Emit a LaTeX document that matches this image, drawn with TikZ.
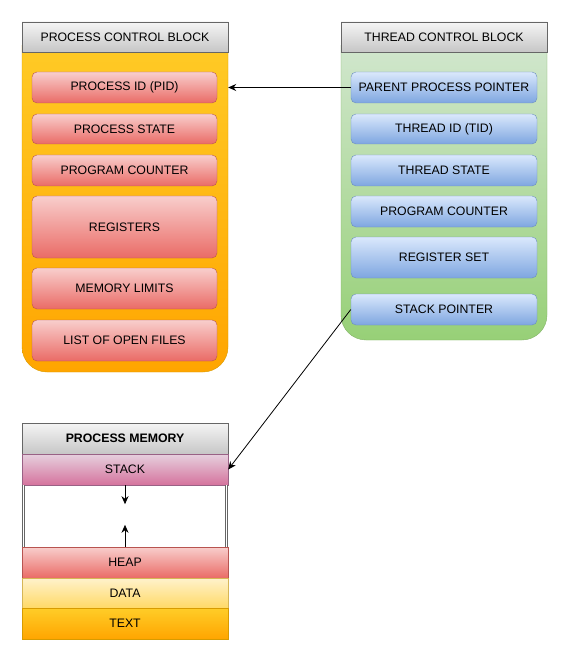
\documentclass[tikz,border=0pt]{standalone}
\usepackage{fontspec}
\setmainfont{Liberation Sans}
\usetikzlibrary{arrows.meta}
\definecolor{headtop}{HTML}{F5F5F5}
\definecolor{headbot}{HTML}{C6C6C6}
\definecolor{headline}{HTML}{666666}
\definecolor{orgtop}{HTML}{FFCD28}
\definecolor{orgbot}{HTML}{FFA500}
\definecolor{orgline}{HTML}{D79B00}
\definecolor{redtop}{HTML}{F8CECC}
\definecolor{redbot}{HTML}{EA6B66}
\definecolor{redline}{HTML}{B85450}
\definecolor{grntop}{HTML}{D5E8D4}
\definecolor{grnbot}{HTML}{97D077}
\definecolor{grnline}{HTML}{82B366}
\definecolor{blutop}{HTML}{DAE8FC}
\definecolor{blubot}{HTML}{7EA6E0}
\definecolor{bluline}{HTML}{6C8EBF}
\definecolor{pnktop}{HTML}{E6D0DE}
\definecolor{pnkbot}{HTML}{D5739D}
\definecolor{pnkline}{HTML}{996185}
\definecolor{ylwtop}{HTML}{FFF2CC}
\definecolor{ylwbot}{HTML}{FFD966}
\definecolor{ylwline}{HTML}{D6B656}
\begin{document}
\begin{tikzpicture}[x=1pt,y=-1pt,font=\fontsize{12.3}{14}\selectfont,
  head/.style={draw=headline,top color=headtop,bottom color=headbot,minimum width=206,minimum height=30,inner sep=0},
  pcbbody/.style={draw=orgline,top color=orgtop,bottom color=orgbot,rounded corners=25,minimum width=206,inner sep=0},
  tcbbody/.style={draw=grnline,top color=grntop,bottom color=grnbot,rounded corners=25,minimum width=206,inner sep=0},
  pitem/.style={draw=redline,top color=redtop,bottom color=redbot,rounded corners=5,minimum width=185,inner sep=0},
  titem/.style={draw=bluline,top color=blutop,bottom color=blubot,rounded corners=5,minimum width=186,inner sep=0},
  seg/.style={minimum width=206,inner sep=0},
  wall/.style={draw=headline,double,double distance=1.4pt,line width=0.7pt},
  ptr/.style={line width=0.8pt,-{Stealth[length=8pt,width=7pt]}}]
  \useasboundingbox (0,0) rectangle (568,660);
  % process control block
  \node[pcbbody,minimum height=350] (pcb) at (125,197) {};
  \node[head] (pcbhead) at (125,37) {PROCESS CONTROL BLOCK};
  \node[pitem,minimum height=31] (pid) at (124.5,87.5) {PROCESS ID (PID)};
  \node[pitem,minimum height=30] (pstate) at (124.5,129) {PROCESS STATE};
  \node[pitem,minimum height=31] (pcount) at (124.5,170.5) {PROGRAM COUNTER};
  \node[pitem,minimum height=62] (regs) at (124.5,227) {REGISTERS};
  \node[pitem,minimum height=41] (memlim) at (124.5,288.5) {MEMORY LIMITS};
  \node[pitem,minimum height=41] (files) at (124.5,340.5) {LIST OF OPEN FILES};
  % thread control block
  \node[tcbbody,minimum height=318] (tcb) at (444,181) {};
  \node[head] (tcbhead) at (444,37) {THREAD CONTROL BLOCK};
  \node[titem,minimum height=31] (ppp) at (444,87.5) {PARENT PROCESS POINTER};
  \node[titem,minimum height=30] (tid) at (444,129) {THREAD ID (TID)};
  \node[titem,minimum height=31] (tstate) at (444,170.5) {THREAD STATE};
  \node[titem,minimum height=31] (tcount) at (444,211.5) {PROGRAM COUNTER};
  \node[titem,minimum height=41] (regset) at (444,257.5) {REGISTER SET};
  \node[titem,minimum height=31] (sp) at (444,309.5) {STACK POINTER};
  % process memory
  \node[head,minimum height=31,font=\fontsize{12.3}{14}\selectfont\bfseries] (memhead) at (125,438.5) {PROCESS MEMORY};
  \node[seg,draw=pnkline,top color=pnktop,bottom color=pnkbot,minimum height=31] (stack) at (125,469.5) {STACK};
  \node[seg,draw=redline,top color=redtop,bottom color=redbot,minimum height=31] (heap) at (125,562.5) {HEAP};
  \node[seg,draw=ylwline,top color=ylwtop,bottom color=ylwbot,minimum height=30] (data) at (125,593) {DATA};
  \node[seg,draw=orgline,top color=orgtop,bottom color=orgbot,minimum height=31] (text) at (125,623.5) {TEXT};
  \draw[wall] ([xshift=1.5pt]stack.south west) -- ([xshift=1.5pt]heap.north west);
  \draw[wall] ([xshift=-1.5pt]stack.south east) -- ([xshift=-1.5pt]heap.north east);
  \draw[ptr] (stack.south) -- ++(0,19);
  \draw[ptr] (heap.north) -- ++(0,-22);
  % pointers
  \draw[ptr] (ppp.west) -- (pcb.east |- ppp.west);
  \draw[ptr] (sp.west) -- (stack.east);
\end{tikzpicture}
\end{document}
